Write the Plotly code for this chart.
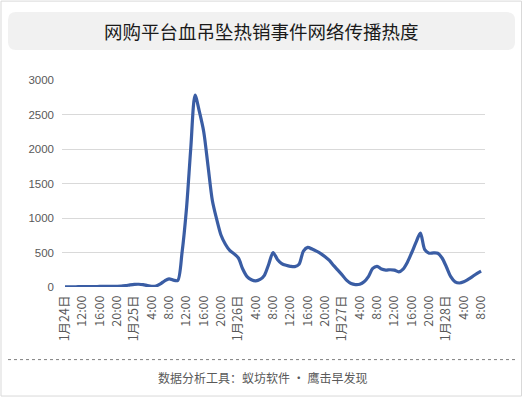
import plotly.graph_objects as go

# ---- data (hourly values, 1月24日 8:00 -> 1月28日 8:00) ----
heat_values = [
    2, 3, 3, 4, 4, 5, 5, 6, 8, 8, 10, 10, 10,
    12, 20, 30, 38, 40, 35, 20, 10, 15, 45, 90, 118, 100, 95,
    500, 1120, 2000, 2780, 2540, 2250, 1750, 1250, 980, 750, 620, 530, 480,
    420, 260, 150, 105, 90, 110, 170, 330, 500, 400, 340, 315, 300, 295,
    330, 520, 575, 550, 520, 485, 440, 385, 310, 240, 170, 95, 50, 35, 40,
    75, 150, 270, 300, 260, 245, 250, 245, 220, 260, 360, 500, 650, 780,
    540, 490, 495, 490, 420, 290, 150, 75, 58, 75, 110, 150, 195, 230,
]
tick_labels = [
    "1月24日", "12:00", "16:00", "20:00", "1月25日", "4:00", "8:00", "12:00",
    "16:00", "20:00", "1月26日", "4:00", "8:00", "12:00", "16:00", "20:00",
    "1月27日", "4:00", "8:00", "12:00", "16:00", "20:00", "1月28日", "4:00", "8:00",
]
y_ticks = [0, 500, 1000, 1500, 2000, 2500, 3000]
title_text = "网购平台血吊坠热销事件网络传播热度"
footer_text = "数据分析工具：蚁坊软件 · 鹰击早发现"

W, H = 523, 398
L, R, T, B = 62, 485, 80, 287.3
FONT = "Noto Sans CJK SC"


def px(x):
    return (x - L) / (R - L)


def py(y):
    return (B - y) / (B - T)


x_idx = list(range(len(heat_values)))

fig = go.Figure()
fig.add_trace(go.Scatter(
    x=x_idx, y=heat_values, mode="lines",
    line=dict(color="#3A5DA4", width=3.2, shape="spline", smoothing=0.8),
    hoverinfo="skip",
))

fig.update_layout(
    width=W, height=H,
    margin=dict(l=L, r=W - R, t=T, b=H - B, pad=0),
    paper_bgcolor="white", plot_bgcolor="white",
    showlegend=False,
    font=dict(family=FONT, color="#595959", size=11),
    xaxis=dict(
        range=[-0.7, 96.9], tickmode="array",
        tickvals=[i * 4 for i in range(len(tick_labels))],
        ticktext=tick_labels, tickangle=-90, showgrid=False,
        zeroline=False, showline=False, ticks="", ticklabelstandoff=5,
        tickfont=dict(family=FONT, size=12.5, color="#595959"),
    ),
    yaxis=dict(
        range=[0, 3000], tickmode="array", tickvals=y_ticks,
        showgrid=True, gridcolor="#d9d9d9", gridwidth=1, zeroline=False,
        showline=False, ticks="", ticklabelstandoff=7,
        tickfont=dict(family="Liberation Sans", size=11.5, color="#595959"),
    ),
    shapes=[
        dict(type="rect", xref="paper", yref="paper",
             x0=px(1), x1=px(521.5), y0=py(396.5), y1=py(1),
             line=dict(color="#d9d9d9", width=1), fillcolor="rgba(0,0,0,0)",
             layer="below"),
        dict(type="path", xref="paper", yref="paper",
             path=(
                 f"M {px(16)},{py(12)} L {px(507)},{py(12)} "
                 f"Q {px(515)},{py(12)} {px(515)},{py(20)} "
                 f"L {px(515)},{py(42)} Q {px(515)},{py(50)} {px(507)},{py(50)} "
                 f"L {px(16)},{py(50)} Q {px(8)},{py(50)} {px(8)},{py(42)} "
                 f"L {px(8)},{py(20)} Q {px(8)},{py(12)} {px(16)},{py(12)} Z"
             ),
             fillcolor="#f1f1f1", line=dict(width=0), layer="below"),
        dict(type="line", xref="paper", yref="paper",
             x0=px(8), x1=px(515), y0=py(360), y1=py(360),
             line=dict(color="#7f7f7f", width=1, dash="dot")),
    ],
    annotations=[
        dict(text=title_text, xref="paper", yref="paper",
             x=px(261.5), y=py(31), xanchor="center", yanchor="middle",
             showarrow=False, font=dict(family=FONT, size=18.5, color="#1a1a1a")),
        dict(text=footer_text, xref="paper", yref="paper",
             x=px(262), y=py(377.5), xanchor="center", yanchor="middle",
             showarrow=False, font=dict(family=FONT, size=12, color="#595959")),
    ],
)

fig.write_html(
    "out.html",
    config={"displayModeBar": False, "staticPlot": True},
    post_script="document.body.style.margin='0px';document.body.style.overflow='hidden';",
)
